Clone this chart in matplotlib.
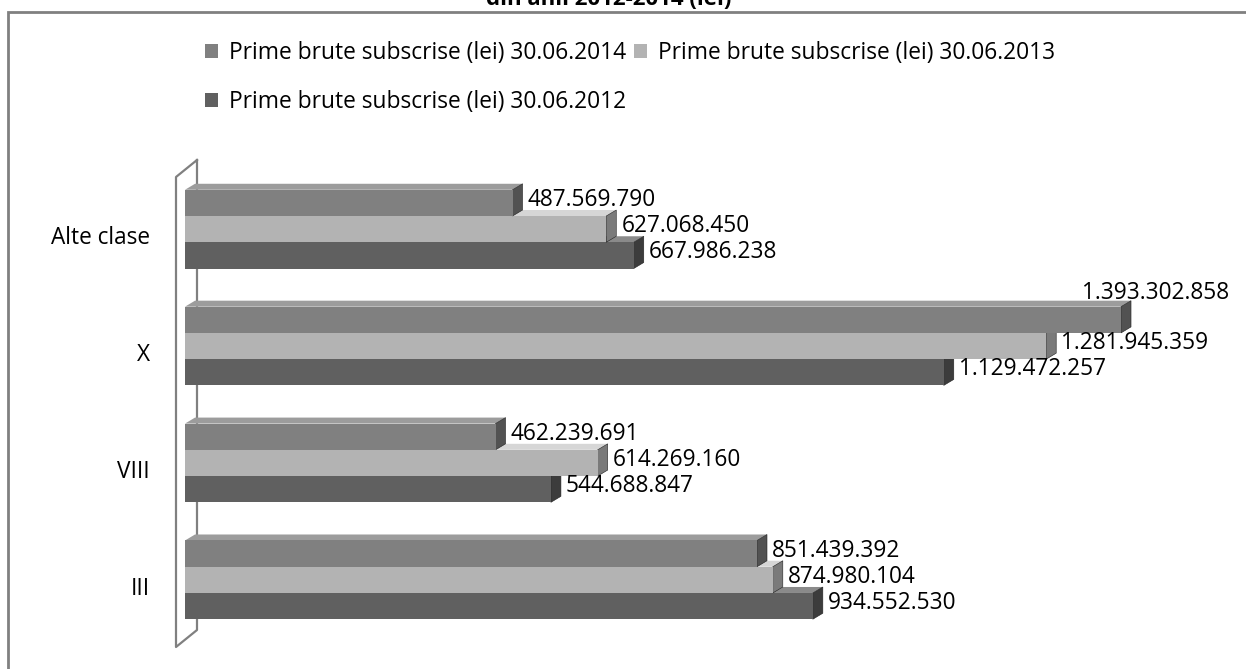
import matplotlib
matplotlib.use("Agg")
import matplotlib.pyplot as plt
from matplotlib.patches import Polygon, Patch, Rectangle
from matplotlib.lines import Line2D

plt.rcParams['font.family'] = ['Open Sans', 'DejaVu Sans']

categories = ["III", "VIII", "X", "Alte clase"]
series_names = ["Prime brute subscrise (lei) 30.06.2014",
                "Prime brute subscrise (lei) 30.06.2013",
                "Prime brute subscrise (lei) 30.06.2012"]
v2014 = [851439392, 462239691, 1393302858, 487569790]
v2013 = [874980104, 614269160, 1281945359, 627068450]
v2012 = [934552530, 544688847, 1129472257, 667986238]
title = "din anii 2012-2014 (lei)"

front = ["#808080", "#b3b3b3", "#606060"]
side = ["#525252", "#7a7a7a", "#3c3c3c"]
top = ["#9c9c9c", "#d6d6d6", "#8a8a8a"]

W, H = 1246, 669
fig = plt.figure(figsize=(W / 100, H / 100), dpi=100)

# frame
fig.patches.append(Rectangle((8 / W, -0.05), 1.1, (H - 12) / H + 0.05, transform=fig.transFigure,
                             fill=False, edgecolor="#808080", lw=2))
fig.text(609 / W, (H - 5) / H, title, ha="center", va="baseline", fontsize=16, fontweight="bold",
         color="#000000")

ax_left, ax_right = 185, 1233
ax_top, ax_bot = 159, 650
ax = fig.add_axes([ax_left / W, (H - ax_bot) / H, (ax_right - ax_left) / W, (ax_bot - ax_top) / H])
xmax = 1560e6
ymin, ymax = -0.6, 3.6
ax.set_xlim(0, xmax)
ax.set_ylim(ymin, ymax)
ax.axis("off")

px_x = xmax / (ax_right - ax_left)
px_y = (ymax - ymin) / (ax_bot - ax_top)
dx, dy = 10 * px_x, 6 * px_y

bh = 0.2245
offsets = [bh, 0.0, -bh]
all_series = [v2014, v2013, v2012]

# wall (derived from axes geometry), drawn behind the bars
wall_in_x, wall_out_x = ax_left + 12, ax_left - 9
inner_top, inner_bot = 160, 630
shift_y = 17
def fx(p): return p / W
def fy(p): return (H - p) / H
wall = [(wall_in_x, inner_top), (wall_in_x, inner_bot), (wall_out_x, inner_bot + shift_y),
        (wall_out_x, inner_top + shift_y), (wall_in_x, inner_top)]
ax.add_line(Line2D([fx(p[0]) for p in wall], [fy(p[1]) for p in wall], color="#808080", lw=1.6,
                   transform=fig.transFigure, zorder=0.5, clip_on=False))

maxval = max(max(s) for s in all_series)
for ci, cat in enumerate(categories):
    for si in [2, 1, 0]:
        val = all_series[si][ci]
        yc = ci + offsets[si]
        y0, y1 = yc - bh / 2, yc + bh / 2
        z = 2 + (3 - si)
        ax.add_patch(Polygon([(0, y1), (val, y1), (val + dx, y1 + dy), (dx, y1 + dy)], closed=True,
                             facecolor=top[si], edgecolor="none", zorder=z))
        ax.add_patch(Polygon([(val, y0), (val, y1), (val + dx, y1 + dy), (val + dx, y0 + dy)], closed=True,
                             facecolor=side[si], edgecolor="#222222", lw=0.4, zorder=z))
        ax.barh(yc, val, height=bh, left=0, color=front[si], edgecolor="none", zorder=z)
        lab = f"{val:,}".replace(",", ".")
        if val == maxval:
            ax.annotate(lab, (val, y1), xytext=(35, 14), textcoords="offset pixels", ha="center",
                        va="center", fontsize=16.3, zorder=10)
        else:
            ax.annotate(lab, (val, yc), xytext=(15, 3), textcoords="offset pixels", ha="left",
                        va="center", fontsize=16.3, zorder=10)
    ax.annotate(cat, (0, ci), xytext=(-35, -9), textcoords="offset pixels", ha="right", va="center",
                fontsize=16.3, annotation_clip=False)

handles = [Patch(facecolor=front[i], edgecolor="none") for i in range(3)]
order = [0, 2, 1]
fig.legend([handles[i] for i in order], [series_names[i] for i in order], ncol=2,
           loc="upper left", bbox_to_anchor=(205 / W, (H - 41) / H), frameon=False, fontsize=16.4,
           handlelength=0.55, handleheight=0.55, handletextpad=0.5, columnspacing=0.35, labelspacing=1.1,
           borderpad=0, borderaxespad=0)

fig.savefig("out.png", dpi=100)
